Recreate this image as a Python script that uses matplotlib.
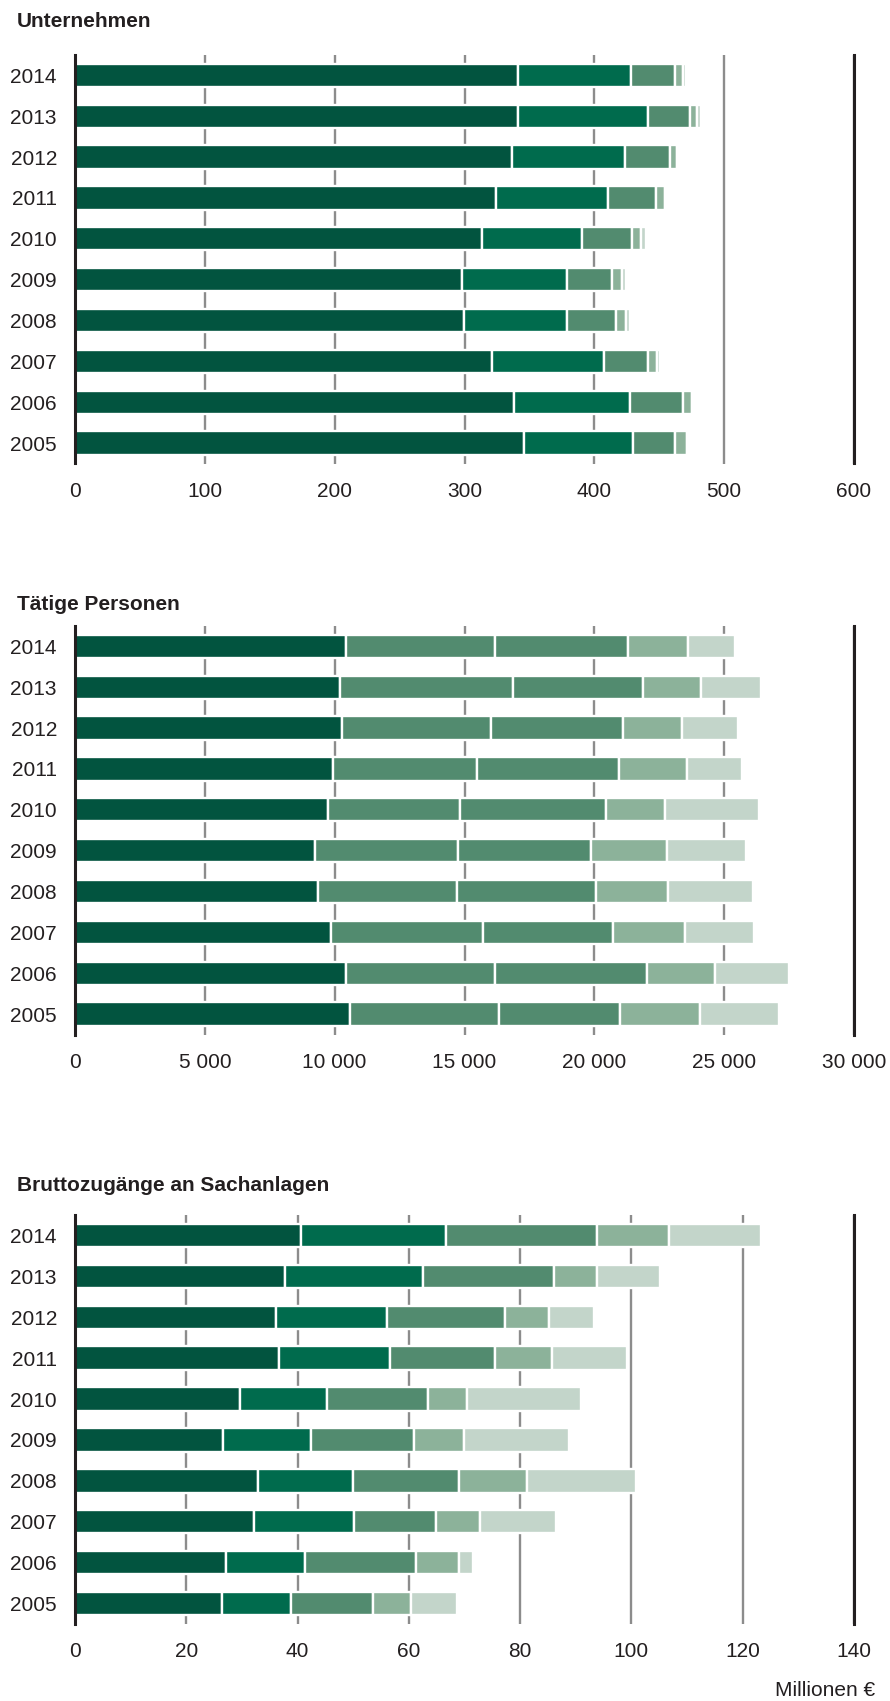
import matplotlib
matplotlib.use('Agg')
import matplotlib.pyplot as plt
import numpy as np

plt.rcParams['font.family'] = ['Liberation Sans', 'DejaVu Sans']

years = ['2014', '2013', '2012', '2011', '2010', '2009', '2008', '2007', '2006', '2005']

# Unternehmen (Anzahl) - five size classes, years 2014..2005
unt_s1 = [341, 341, 336.6, 324.6, 313.8, 297.8, 299.7, 320.8, 337.8, 345.6]
unt_s2 = [87, 100, 86.8, 85.9, 76.7, 80.9, 79.0, 86.6, 89.6, 83.9]
unt_s3 = [34, 32.3, 34.8, 36.7, 38.7, 34.6, 37.7, 33.9, 40.8, 32.8]
unt_s4 = [6.6, 5.7, 5.6, 6.9, 7.1, 7.7, 7.9, 6.6, 7.0, 8.8]
unt_s5 = [2.2, 3.3, 0, 0, 3.7, 3.4, 2.9, 2.6, 0, 0]

# Tätige Personen
tp_s1 = [10436, 10212, 10288, 9942, 9744, 9244, 9346, 9853, 10436, 10600]
tp_s2 = [5756, 6660, 5725, 5545, 5064, 5519, 5366, 5859, 5756, 5740]
tp_s3 = [5096, 4987, 5102, 5475, 5634, 5109, 5346, 4993, 5834, 4653]
tp_s4 = [2320, 2231, 2270, 2615, 2289, 2910, 2775, 2769, 2628, 3091]
tp_s5 = [1795, 2340, 2160, 2123, 3596, 3045, 3289, 2661, 2853, 3046]

# Bruttozugänge an Sachanlagen (Millionen €)
bz_s1 = [40.7, 37.7, 36.1, 36.6, 29.7, 26.6, 32.8, 32.1, 27.1, 26.5]
bz_s2 = [25.9, 24.8, 19.9, 20.1, 15.6, 15.8, 17.2, 18.0, 14.3, 12.3]
bz_s3 = [27.3, 23.6, 21.2, 18.8, 18.1, 18.6, 19.0, 14.7, 19.9, 14.7]
bz_s4 = [12.8, 7.8, 7.9, 10.2, 7.1, 8.9, 12.3, 8.0, 7.8, 6.8]
bz_s5 = [16.6, 11.3, 8.1, 13.5, 20.5, 18.8, 19.6, 13.6, 2.5, 8.4]

unt_ticks = [0, 100, 200, 300, 400, 500, 600]
unt_labels = ['0', '100', '200', '300', '400', '500', '600']
tp_ticks = [0, 5000, 10000, 15000, 20000, 25000, 30000]
tp_labels = ['0', '5 000', '10 000', '15 000', '20 000', '25 000', '30 000']
bz_ticks = [0, 20, 40, 60, 80, 100, 120, 140]
bz_labels = ['0', '20', '40', '60', '80', '100', '120', '140']

DARK = '#02543f'
BRIGHT = '#006b4d'
MED = '#528b6f'
LIGHT = '#8cb29a'
PALE = '#c3d5ca'

W, H = 890, 1701
fig = plt.figure(figsize=(W / 100, H / 100), dpi=100)

AX_L = 75 / W
AX_W = (854 - 75) / W


def make_axes(top_px, bottom_px):
    return fig.add_axes([AX_L, 1 - bottom_px / H, AX_W, (bottom_px - top_px) / H])


def draw(ax, series, colors, ticks, labels):
    y = np.arange(len(years))
    left = np.zeros(len(years))
    for vals, c in zip(series, colors):
        v = np.array(vals, dtype=float)
        ax.barh(y, v, left=left, height=0.57, color=c, edgecolor='white',
                linewidth=1.7, zorder=2)
        left += v
    ax.set_ylim(len(years) - 0.5, -0.5)
    ax.set_xlim(ticks[0], ticks[-1])
    ax.set_yticks(y)
    ax.set_yticklabels(years)
    ax.set_xticks(ticks)
    ax.set_xticklabels(labels)
    ax.set_axisbelow(True)
    ax.xaxis.grid(True, color='#8c8c8c', linewidth=1.7)
    ax.yaxis.grid(False)
    for s in ['top', 'bottom']:
        ax.spines[s].set_visible(False)
    for s in ['left', 'right']:
        ax.spines[s].set_color('#231f20')
        ax.spines[s].set_linewidth(2.2)
        ax.spines[s].set_zorder(5)
    ax.tick_params(axis='both', length=0, labelsize=15, colors='#231f20')
    ax.tick_params(axis='y', pad=13)
    ax.tick_params(axis='x', pad=13)


ax1 = make_axes(55, 463.5)
draw(ax1, [unt_s1, unt_s2, unt_s3, unt_s4, unt_s5],
     [DARK, BRIGHT, MED, LIGHT, PALE], unt_ticks, unt_labels)

ax2 = make_axes(626, 1034.5)
draw(ax2, [tp_s1, tp_s2, tp_s3, tp_s4, tp_s5],
     [DARK, MED, MED, LIGHT, PALE], tp_ticks, tp_labels)

ax3 = make_axes(1215, 1624)
draw(ax3, [bz_s1, bz_s2, bz_s3, bz_s4, bz_s5],
     [DARK, BRIGHT, MED, LIGHT, PALE], bz_ticks, bz_labels)

title_kw = dict(fontsize=15, fontweight='bold', color='#231f20', ha='left', va='baseline')
fig.text(17 / W, 1 - 26.7 / H, 'Unternehmen', **title_kw)
fig.text(17 / W, 1 - 610 / H, 'Tätige Personen', **title_kw)
fig.text(17 / W, 1 - 1191 / H, 'Bruttozugänge an Sachanlagen', **title_kw)

fig.text(875 / W, 1 - 1690 / H, 'Millionen €', fontsize=15, color='#231f20',
         ha='right', va='center')

fig.savefig('out.png', dpi=100, facecolor='white')
